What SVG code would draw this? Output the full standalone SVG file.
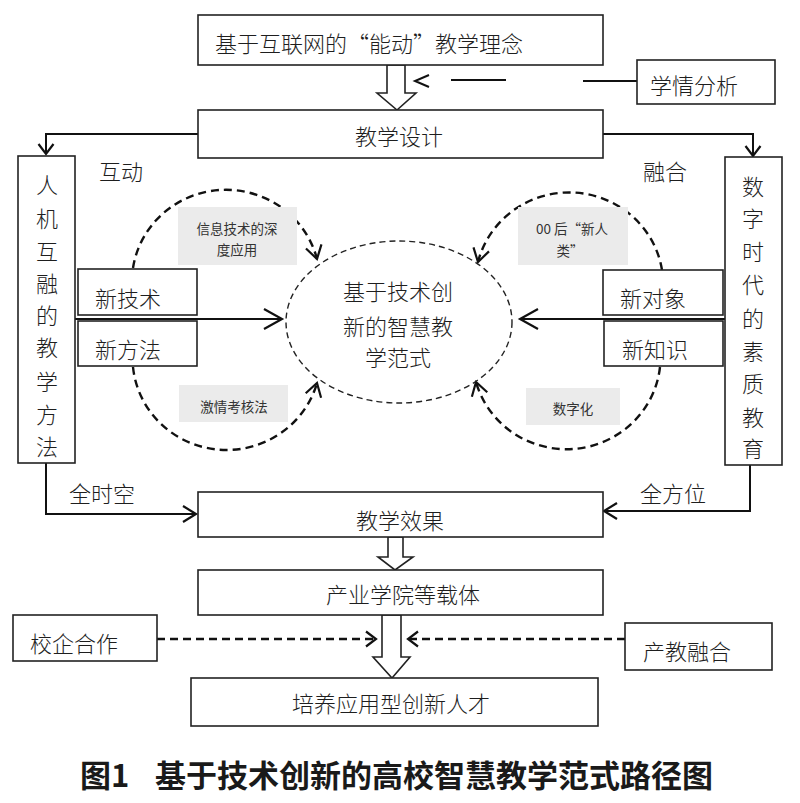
<svg xmlns="http://www.w3.org/2000/svg" width="800" height="803" viewBox="0 0 800 803">
<style>
.box{fill:#fff;stroke:#222;stroke-width:1.6}
.gbox{fill:#ebebeb;stroke:none}
.t{font-family:"Noto Sans CJK SC","Noto Sans",sans-serif;font-size:22px;fill:#1e1e1e;dominant-baseline:central;font-weight:300}
.s{font-family:"Noto Sans CJK SC","Noto Sans",sans-serif;font-size:13.5px;fill:#333;dominant-baseline:central;text-anchor:middle}
.c{text-anchor:middle}
.ln{fill:none;stroke:#111;stroke-width:2}
.dl{fill:none;stroke:#111;stroke-width:2.4;stroke-dasharray:8 5}
.el{fill:none;stroke:#222;stroke-width:1.4;stroke-dasharray:6 4}
.hol{fill:#fff;stroke:#222;stroke-width:1.6;stroke-linejoin:miter}
.cap{font-family:"Noto Sans CJK SC","Noto Sans",sans-serif;font-size:31px;font-weight:bold;fill:#1a1a1a;dominant-baseline:central}
</style>
<defs>
<marker id="ah" viewBox="0 0 13 16" refX="13" refY="8" markerWidth="13" markerHeight="16" markerUnits="userSpaceOnUse" orient="auto" overflow="visible">
<path d="M0,0 L13,8 L0,16" fill="none" stroke="#111" stroke-width="2.2"/>
</marker>
<marker id="ahs" viewBox="0 0 10 15" refX="10" refY="7.5" markerWidth="10" markerHeight="15" markerUnits="userSpaceOnUse" orient="auto" overflow="visible">
<path d="M0,0 L10,7.5 L0,15" fill="none" stroke="#111" stroke-width="2.2"/>
</marker>
<marker id="ahl" viewBox="0 0 18 20" refX="18" refY="10" markerWidth="18" markerHeight="20" markerUnits="userSpaceOnUse" orient="auto" overflow="visible">
<path d="M0,0 L18,10 L0,20" fill="none" stroke="#111" stroke-width="2.2"/>
</marker>
</defs>
<rect width="800" height="803" fill="#fff"/>

<g id="connectors">
<polygon class="hol" points="387,65 405,65 405,93 416,93 397,110 377,93 387,93"/>
<polygon class="hol" points="388,537 403,537 403,557 413,557 395,570 378,557 388,557"/>
<polygon class="hol" points="382,615 401,615 401,657 410,657 392,678 373,657 382,657"/>
<polyline class="ln" points="429,75 415,81 429,87"/>
<line class="ln" x1="451" y1="80" x2="506" y2="80"/>
<line class="ln" x1="583" y1="81" x2="637" y2="81"/>
<polyline class="ln" points="198,134 46,134 46,154" marker-end="url(#ahs)"/>
<polyline class="ln" points="603,134 753,134 753,156" marker-end="url(#ahs)"/>
<line class="ln" x1="75" y1="319" x2="282" y2="319" marker-end="url(#ahl)"/>
<line class="ln" x1="725" y1="319" x2="520" y2="319" marker-end="url(#ahl)"/>
<polyline class="ln" points="46,463 46,514 196,514" marker-end="url(#ah)"/>
<polyline class="ln" points="750,465 750,511 604,511" marker-end="url(#ah)"/>
<line class="dl" x1="157" y1="639" x2="376" y2="639" marker-end="url(#ahs)"/>
<line class="dl" x1="625" y1="639" x2="408" y2="639" marker-end="url(#ahs)"/>
<path class="dl" d="M133,268 A94 92 0 0 1 317,259" marker-end="url(#ah)"/>
<path class="dl" d="M133,367 A94 92 0 0 0 317,383" marker-end="url(#ah)"/>
<path class="dl" d="M662,270 A94 92 0 0 0 478,262" marker-end="url(#ah)"/>
<path class="dl" d="M660,367 A94 92 0 0 1 476,382" marker-end="url(#ah)"/>
</g>

<g id="n-top"><rect class="box" x="198" y="15" width="405" height="50"/><text class="t" x="215" y="42">基于互联网的“能动”教学理念</text></g>
<g id="n-xqfx"><rect class="box" x="637" y="60" width="138" height="44"/><text class="t" x="650" y="84">学情分析</text></g>
<g id="n-jxsj"><rect class="box" x="198" y="110" width="405" height="48"/><text class="t c" x="399" y="135">教学设计</text></g>
<g id="n-left"><rect class="box" x="18" y="156" width="57" height="307"/>
<text class="t c" x="47" y="183">人</text><text class="t c" x="47" y="217">机</text><text class="t c" x="47" y="250">互</text><text class="t c" x="47" y="282">融</text><text class="t c" x="47" y="314">的</text><text class="t c" x="47" y="346">教</text><text class="t c" x="47" y="380">学</text><text class="t c" x="47" y="413">方</text><text class="t c" x="47" y="445">法</text></g>
<g id="n-right"><rect class="box" x="725" y="157" width="57" height="308"/>
<text class="t c" x="753" y="185">数</text><text class="t c" x="753" y="217">字</text><text class="t c" x="753" y="250">时</text><text class="t c" x="753" y="283">代</text><text class="t c" x="753" y="317">的</text><text class="t c" x="753" y="350">素</text><text class="t c" x="753" y="382">质</text><text class="t c" x="753" y="416">教</text><text class="t c" x="753" y="447">育</text></g>
<g id="l-hd"><text class="t" x="99" y="170">互动</text></g>
<g id="l-rh"><text class="t" x="643" y="170">融合</text></g>
<g id="n-xjs"><rect class="box" x="78" y="269" width="119" height="46"/><text class="t" x="95" y="297">新技术</text></g>
<g id="n-xff"><rect class="box" x="78" y="321" width="119" height="45"/><text class="t" x="95" y="348">新方法</text></g>
<g id="n-xdx"><rect class="box" x="603" y="270" width="120" height="45"/><text class="t" x="620" y="297">新对象</text></g>
<g id="n-xzs"><rect class="box" x="604" y="321" width="119" height="45"/><text class="t" x="622" y="348">新知识</text></g>
<g id="n-center"><ellipse class="el" cx="399" cy="322" rx="113" ry="81"/>
<text class="t c" x="398" y="290">基于技术创</text><text class="t c" x="398" y="325">新的智慧教</text><text class="t c" x="398" y="356">学范式</text></g>
<g id="g-xxjs"><rect class="gbox" x="178" y="207" width="119" height="58"/><text class="s" x="237" y="228">信息技术的深</text><text class="s" x="237" y="249">度应用</text></g>
<g id="g-jqkh"><rect class="gbox" x="179" y="385" width="109" height="37"/><text class="s" x="234" y="406">激情考核法</text></g>
<g id="g-00h"><rect class="gbox" x="518" y="207" width="110" height="58"/><text class="s" x="572" y="228">00 后“新人</text><text class="s" x="570" y="250">类”</text></g>
<g id="g-szh"><rect class="gbox" x="526" y="388" width="94" height="37"/><text class="s" x="573" y="408">数字化</text></g>
<g id="l-qsk"><text class="t" x="69" y="492">全时空</text></g>
<g id="l-qfw"><text class="t" x="640" y="492">全方位</text></g>
<g id="n-jxxg"><rect class="box" x="198" y="492" width="405" height="45"/><text class="t c" x="400" y="519">教学效果</text></g>
<g id="n-cyxy"><rect class="box" x="198" y="570" width="405" height="45"/><text class="t c" x="403" y="593">产业学院等载体</text></g>
<g id="n-xqhz"><rect class="box" x="13" y="615" width="144" height="46"/><text class="t" x="30" y="642">校企合作</text></g>
<g id="n-cjrh"><rect class="box" x="625" y="623" width="147" height="47"/><text class="t" x="643" y="650">产教融合</text></g>
<g id="n-pyyy"><rect class="box" x="191" y="678" width="407" height="48"/><text class="t c" x="391" y="702">培养应用型创新人才</text></g>
<text class="cap" x="80" y="773">图1</text>
<text class="cap" x="155" y="773">基于技术创新的高校智慧教学范式路径图</text>
</svg>
